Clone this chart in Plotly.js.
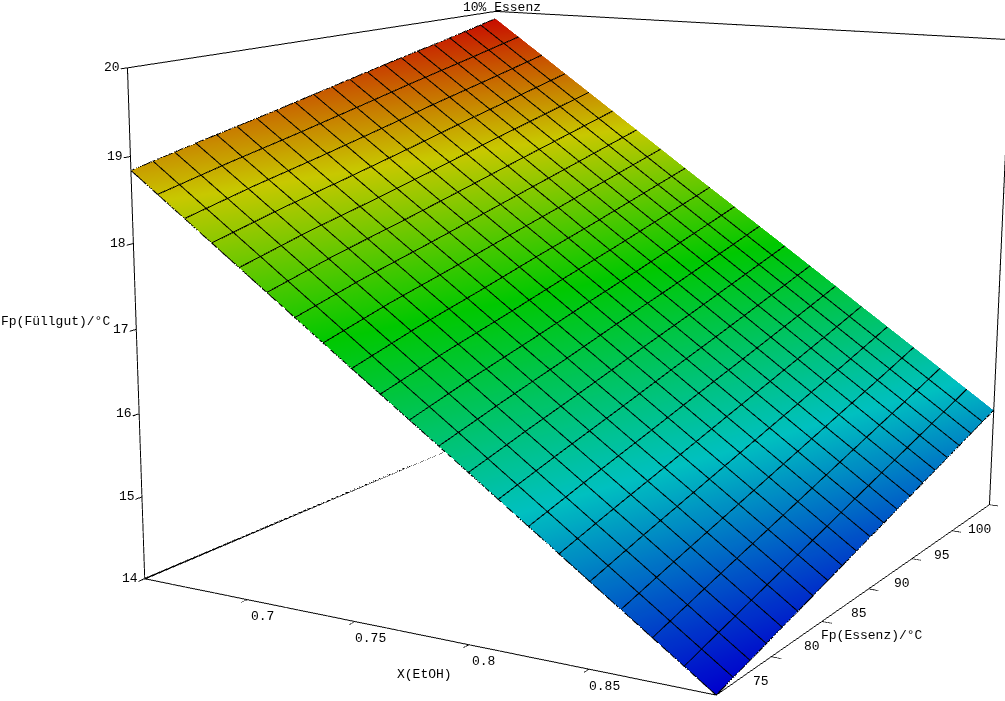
<!DOCTYPE html>
<html><head><meta charset="utf-8">
<script src="https://cdn.plot.ly/plotly-3.0.1.min.js"></script>
<style>html,body{margin:0;padding:0;width:1005px;height:701px;overflow:hidden;background:#fff}
#wrap{position:absolute;left:0;top:0;width:1005px;height:701px;overflow:hidden}
#plot{position:absolute}</style></head><body>
<div id="wrap"><div id="plot"></div></div>
<script>
// values
const xEtOH = [0.65,0.70,0.75,0.80,0.85,0.90];
const yEssenz = [70,75,80,85,90,95,100];
const zAt70  = [18.84,17.87,16.90,15.94,14.97,14.00];
const zAt75  = [19.02,18.07,17.11,16.14,15.18,14.21];
const zAt80  = [19.19,18.24,17.29,16.33,15.38,14.42];
const zAt85  = [19.37,18.42,17.48,16.53,15.58,14.63];
const zAt90  = [19.55,18.61,17.66,16.72,15.78,14.84];
const zAt95  = [19.72,18.79,17.85,16.92,15.98,15.05];
const zAt100 = [19.90,18.97,18.04,17.12,16.19,15.26];
const xTicks = [0.7,0.75,0.8,0.85];
const yTicks = [75,80,85,90,95,100];
const zTicks = [14,15,16,17,18,19,20];
const xRange = [0.65,0.9], yRange = [70,100], zRange = [14,20];

// a large plot, offset so the optical centre sits at (cx,cy): weak perspective
const W = 2000, H = 2074, cx = 503, cy = 355;
const left = cx - W/2, top_ = cy - H/2;
const el = document.getElementById('plot');
el.style.left = left+'px'; el.style.top = top_+'px';
el.style.width = W+'px'; el.style.height = H+'px';
const labelFont = {family:'"Liberation Mono",monospace',size:13,color:'#000'};
const px = (u,v,text)=>({xref:'paper',yref:'paper',x:(u-left)/W,y:1-(v-top_)/H,text,showarrow:false,
  xanchor:'center',yanchor:'middle',font:labelFont});
const tickLabel = (x,y,z,text,xshift,yshift)=>({x,y,z,text,showarrow:false,xshift,yshift,xanchor:'center',yanchor:'middle',font:labelFont});

const axis = (range,ticks)=>({range,tickmode:'array',tickvals:ticks,showticklabels:false,
  showgrid:false,zeroline:false,showbackground:false,showspikes:false,showline:true,linecolor:'#000',linewidth:2,
  mirror:true,ticks:'inside',ticklen:8,tickwidth:2,tickcolor:'#000',title:{text:''}});

const surface = {type:'surface',x:xEtOH,y:yEssenz,z:[zAt70,zAt75,zAt80,zAt85,zAt90,zAt95,zAt100],
  showscale:false,cmin:14,cmax:20,hoverinfo:'skip',
  colorscale:[[0,'rgb(0,0,205)'],[0.258,'rgb(0,192,192)'],[0.525,'rgb(0,200,0)'],[0.758,'rgb(200,200,0)'],[1,'rgb(200,0,0)']],
  lighting:{ambient:1,diffuse:0,specular:0,roughness:1,fresnel:0},
  contours:{x:{show:true,start:0.65,end:0.9,size:0.0125,color:'#000',width:1,highlight:false},
            y:{show:true,start:70,end:100,size:1.5,color:'#000',width:1,highlight:false},
            z:{show:false,highlight:false}}};
const backEdges = {type:'scatter3d',mode:'lines',x:[xRange[0],xRange[0],xRange[1]],y:[yRange[0],yRange[1],yRange[1]],
  z:[zRange[0],zRange[0],zRange[0]],line:{color:'#000',width:3},hoverinfo:'skip',showlegend:false};

const sceneLabels = [
  ...xTicks.map(v=>tickLabel(v,yRange[0],zRange[0],String(v),15,-17)),
  ...yTicks.map(v=>tickLabel(xRange[1],v,zRange[0],String(v),-10,-25)),
  ...zTicks.map(v=>tickLabel(xRange[0],yRange[0],v,String(v),-15,0))
];

Plotly.newPlot(el,[surface,backEdges],{
  width:W,height:H,margin:{l:0,r:0,t:0,b:0},paper_bgcolor:'#fff',showlegend:false,
  scene:{domain:{x:[0,1],y:[0,1]},bgcolor:'#fff',aspectmode:'manual',aspectratio:{x:1.013,y:1.0896,z:0.816},
    xaxis:axis(xRange,xTicks),yaxis:axis(yRange,yTicks),zaxis:axis(zRange,zTicks),annotations:sceneLabels,
    camera:{projection:{type:'perspective'},eye:{x:1.940,y:-3.528,z:0.843},center:{x:-0.112,y:-0.089,z:-0.085},up:{x:0,y:0,z:1}}},
  annotations:[px(502,7,'10% Essenz'),px(55,321,'Fp(Füllgut)/°C'),px(424,674,'X(EtOH)'),px(872,635,'Fp(Essenz)/°C')]
},{displayModeBar:false,plotGlPixelRatio:1});
</script></body></html>
